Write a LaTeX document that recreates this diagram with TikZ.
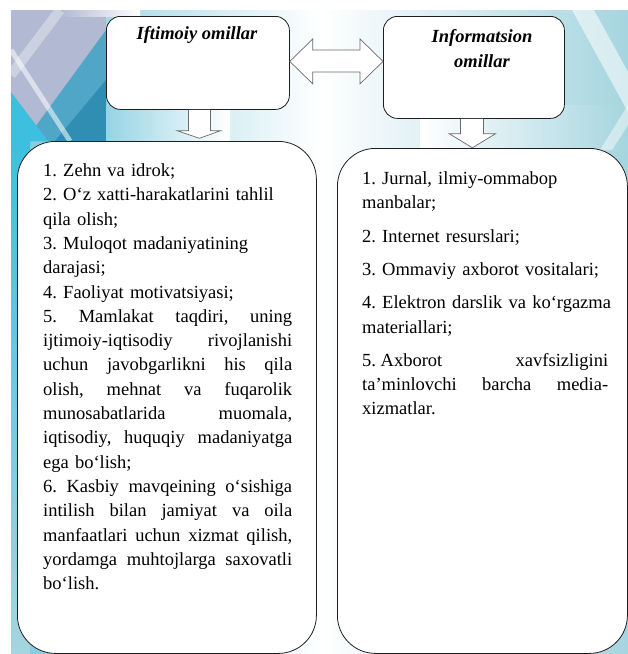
\documentclass[tikz,border=0pt]{standalone}
\usepackage{fontspec}
\setmainfont{Liberation Serif}
\usetikzlibrary{calc}
\definecolor{lav}{HTML}{B2B9D2}
\definecolor{cyanb}{HTML}{3DBFDF}
\definecolor{tealm}{HTML}{4FA6C6}
\definecolor{tealdk}{HTML}{2F8EB1}
\definecolor{teall}{HTML}{A6D5DF}
\definecolor{lcy}{HTML}{7CC9DD}
\definecolor{edgec}{HTML}{1E1E1E}
\definecolor{arrc}{HTML}{6A6A6A}
\tikzset{
  topbox/.style={draw=edgec, line width=0.8pt, fill=white, rounded corners=14pt, anchor=north west, inner sep=0pt},
  bigbox/.style={draw=edgec, line width=0.8pt, fill=white, rounded corners=38pt, anchor=north west, inner sep=0pt},
  titletext/.style={font=\fontsize{18.5}{25}\selectfont\bfseries\itshape, align=center, inner sep=0pt},
  bodytext/.style={font=\fontsize{18.5}{24.3}\selectfont\frenchspacing, align=left, inner sep=0pt},
  blockarrow/.style={draw=arrc, line width=0.7pt, fill=white, line join=miter},
}
\newcommand\jstline[2]{\leavevmode\hbox to #1{\spaceskip=0.25em plus 1fil minus 0.08em\xspaceskip=\spaceskip #2}}
\begin{document}
\begin{tikzpicture}[x=1pt,y=-1pt]
\useasboundingbox (0,0) rectangle (628,654);
% ---------- background ----------
\fill[left color=lcy, right color=teall, middle color=white] (11,10) rectangle (628,654);
\fill[lav] (11,10) rectangle (106,141);
\fill[left color=lav, right color=white] (60,10) rectangle (140,16);
\fill[tealm] (106,30) -- (106,141) -- (25,141) -- cycle;
\fill[tealdk] (106,80) -- (106,141) -- (55,141) -- cycle;
\fill[cyanb] (11,92) -- (11,141) -- (48,141) -- cycle;
\draw[white, opacity=0.55, line width=5pt] (11,50) -- (70,141);
\draw[white, opacity=0.35, line width=10pt] (60,10) -- (11,75);
\fill[left color=lcy!80!white, right color=white] (106,105) rectangle (230,141);
\fill[top color=cyanb, bottom color=teall] (11,141) rectangle (30,654);
\fill[left color=white, right color=teall] (420,105) rectangle (628,150);
\fill[white, opacity=0.55] (572,10) -- (594,10) -- (628,72) -- (628,112) -- cycle;
\fill[white, opacity=0.45] (600,150) -- (628,105) -- (628,125) -- (612,150) -- cycle;
% ---------- boxes ----------
\node[topbox, minimum width=183pt, minimum height=93pt] (tl) at (106,16) {};
\node[topbox, minimum width=181pt, minimum height=102pt] (tr) at (383,16) {};
\node[bigbox, minimum width=299pt, minimum height=512pt] (bl) at (17,141) {};
\node[bigbox, minimum width=290pt, minimum height=505pt] (br) at (337,148) {};
% ---------- titles ----------
\node[titletext, anchor=base] (tlt) at (197,39) {Iftimoiy omillar};
\node[titletext, anchor=base] (trt) at (482,67) {Informatsion\\omillar};
% ---------- arrows ----------
\coordinate (dl) at ($(tl.east)+(0,-1.5)$);
\coordinate (dr) at (tr.west |- dl);
\draw[blockarrow] (dl) -- ($(dl)+(23,-22.5)$) -- ($(dl)+(23,-11.5)$)
  -- ($(dr)+(-23,-11.5)$) -- ($(dr)+(-23,-22.5)$) -- (dr)
  -- ($(dr)+(-23,22.5)$) -- ($(dr)+(-23,10.5)$)
  -- ($(dl)+(23,10.5)$) -- ($(dl)+(23,22.5)$) -- cycle;
\draw[blockarrow] ($(tl.south)+(-9.5,0)$) -- ($(tl.south)+(-9.5,21)$) -- ($(tl.south)+(-20.5,21)$)
  -- ($(tl.south)+(1.5,28.5)$) -- ($(tl.south)+(22.5,21)$) -- ($(tl.south)+(12.5,21)$)
  -- ($(tl.south)+(12.5,0)$);
\draw[blockarrow] ($(tr.south)+(-13.5,0)$) -- ($(tr.south)+(-13.5,15)$) -- ($(tr.south)+(-24.5,15)$)
  -- ($(tr.south)+(-1.5,29)$) -- ($(tr.south)+(21.5,15)$) -- ($(tr.south)+(9.5,15)$)
  -- ($(tr.south)+(9.5,0)$);
% ---------- body texts ----------
\node[bodytext, text width=275pt, anchor=base west] (blt) at (43,176.5) {%
1. Zehn va idrok;\\
2. O‘z xatti-harakatlarini tahlil\\
qila olish;\\
3. Muloqot madaniyatining\\
darajasi;\\
4. Faoliyat motivatsiyasi;\\
\jstline{249pt}{5. Mamlakat taqdiri, uning}\\
\jstline{249pt}{ijtimoiy-iqtisodiy rivojlanishi}\\
\jstline{249pt}{uchun javobgarlikni his qila}\\
\jstline{249pt}{olish, mehnat va fuqarolik}\\
\jstline{249pt}{munosabatlarida muomala,}\\
\jstline{249pt}{iqtisodiy, huquqiy madaniyatga}\\
ega bo‘lish;\\
\jstline{249pt}{6. Kasbiy mavqeining o‘sishiga}\\
\jstline{249pt}{intilish bilan jamiyat va oila}\\
\jstline{249pt}{manfaatlari uchun xizmat qilish,}\\
\jstline{249pt}{yordamga muhtojlarga saxovatli}\\
bo‘lish.};
\node[bodytext, text width=262pt, anchor=base west] (brt) at (362,184.5) {%
1. Jurnal, ilmiy-ommabop\\
manbalar;\\[9pt]
2. Internet resurslari;\\[9pt]
3. Ommaviy axborot vositalari;\\[9pt]
4. Elektron darslik va ko‘rgazma\\
materiallari;\\[9pt]
\jstline{246pt}{5.\hspace{0.25em}Axborot xavfsizligini}\\
\jstline{246pt}{ta’minlovchi barcha media-}\\
xizmatlar.};
\end{tikzpicture}
\end{document}
